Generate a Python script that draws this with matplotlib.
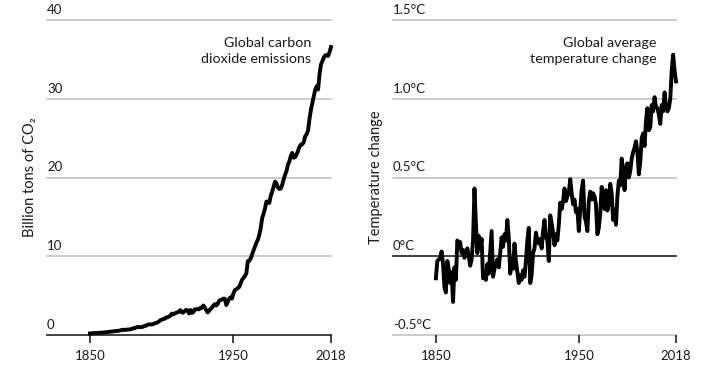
import matplotlib
matplotlib.use("Agg")
import matplotlib.pyplot as plt
from matplotlib.transforms import blended_transform_factory

plt.rcParams['font.family'] = ['Lato', 'DejaVu Sans']

years = list(range(1850, 2019))

# billion tons of CO2 per year
co2 = [
    0.20, 0.21, 0.22, 0.24, 0.26, 0.26, 0.28, 0.29, 0.29, 0.31,
    0.34, 0.35, 0.36, 0.38, 0.41, 0.44, 0.45, 0.48, 0.48, 0.52,
    0.54, 0.58, 0.63, 0.67, 0.64, 0.67, 0.69, 0.70, 0.71, 0.77,
    0.85, 0.87, 0.94, 1.01, 1.02, 1.00, 1.01, 1.05, 1.17, 1.16,
    1.29, 1.35, 1.36, 1.33, 1.39, 1.48, 1.52, 1.60, 1.71, 1.87,
    1.95, 2.02, 2.06, 2.23, 2.24, 2.34, 2.45, 2.72, 2.62, 2.73,
    2.82, 2.87, 2.98, 3.16, 2.87, 2.84, 3.05, 3.19, 3.13, 2.74,
    3.17, 2.81, 2.90, 3.27, 3.26, 3.28, 3.26, 3.47, 3.46, 3.75,
    3.50, 3.17, 2.87, 3.06, 3.32, 3.46, 3.74, 3.92, 3.75, 3.95,
    4.35, 4.45, 4.50, 4.62, 4.60, 3.80, 4.20, 4.60, 4.80, 4.62,
    5.30, 5.70, 5.80, 5.95, 6.10, 6.56, 7.00, 7.26, 7.50, 7.85,
    9.38, 9.40, 9.74, 10.22, 10.75, 11.22, 11.73, 12.09, 12.73, 13.57,
    14.85, 15.40, 16.09, 16.96, 16.82, 16.77, 17.69, 18.19, 18.82, 19.48,
    19.24, 18.72, 18.54, 18.62, 19.09, 19.77, 20.36, 20.83, 21.65, 22.06,
    22.75, 23.12, 22.51, 22.59, 22.92, 23.38, 23.90, 24.17, 24.22, 24.49,
    25.23, 25.50, 25.97, 27.43, 28.59, 29.47, 30.38, 31.18, 31.57, 31.17,
    33.11, 34.34, 34.80, 35.23, 35.52, 35.51, 35.45, 35.93, 36.57,
]

# temperature change in degrees C
temp = [
    -0.14, -0.03, -0.02, -0.01, 0.03, -0.05, -0.20, -0.23, -0.03, -0.08,
    -0.17, -0.10, -0.29, -0.07, -0.15, 0.10, 0.08, 0.09, 0.02, 0.04,
    -0.01, 0.02, 0.05, 0.00, -0.06, -0.02, 0.10, 0.43, 0.21, 0.02,
    0.13, 0.05, 0.11, -0.14, -0.10, -0.15, -0.05, -0.11, 0.03, 0.16,
    -0.13, -0.08, -0.05, -0.02, -0.07, 0.02, 0.12, 0.06, 0.14, 0.10,
    0.23, 0.12, -0.11, -0.02, -0.08, 0.08, -0.03, -0.10, -0.17, -0.12,
    -0.15, -0.09, -0.13, -0.03, 0.10, 0.18, -0.17, -0.12, 0.02, 0.05,
    0.15, 0.10, 0.08, 0.11, 0.05, 0.16, 0.23, 0.12, 0.10, -0.03,
    0.26, 0.21, 0.15, 0.07, 0.14, 0.10, 0.20, 0.34, 0.30, 0.35,
    0.43, 0.35, 0.38, 0.40, 0.49, 0.40, 0.33, 0.36, 0.28, 0.30,
    0.16, 0.30, 0.42, 0.48, 0.25, 0.22, 0.16, 0.35, 0.41, 0.36,
    0.40, 0.38, 0.33, 0.14, 0.18, 0.27, 0.44, 0.35, 0.30, 0.42,
    0.29, 0.33, 0.46, 0.40, 0.23, 0.30, 0.20, 0.38, 0.48, 0.45,
    0.62, 0.55, 0.42, 0.56, 0.59, 0.50, 0.54, 0.62, 0.66, 0.69,
    0.73, 0.66, 0.52, 0.60, 0.75, 0.78, 0.70, 0.86, 0.94, 0.80,
    0.82, 0.96, 0.92, 1.01, 0.95, 0.94, 0.90, 0.84, 0.96, 0.92,
    1.04, 0.95, 0.92, 0.94, 1.00, 1.18, 1.28, 1.18, 1.11,
]

xticks = [1850, 1950, 2018]
co2_grid = [0, 10, 20, 30, 40]
co2_labels = ["0", "10", "20", "30", "40"]
temp_grid = [-0.5, 0.0, 0.5, 1.0, 1.5]
temp_labels = ["-0.5°C", "0°C", "0.5°C", "1.0°C", "1.5°C"]

W, H = 716, 378
fig = plt.figure(figsize=(W / 100, H / 100), dpi=100)
ax1 = fig.add_axes([47 / W, 43 / H, 284 / W, 315 / H])
ax2 = fig.add_axes([393 / W, 43 / H, 283 / W, 315 / H])

GRID = "#bdbdbd"
TXT = "#1a1a1a"


def setup(ax, grid, labels, dark, ylab, title):
    tr = blended_transform_factory(ax.transAxes, ax.transData)
    for g, lab in zip(grid, labels):
        col = "#333333" if g == dark else GRID
        ax.axhline(g, color=col, lw=1.3 if g == dark else 1.1, zorder=1,
                   clip_on=False)
        ax.annotate(lab, (0, g), xycoords=tr, xytext=(0, 3),
                    textcoords="offset points", ha="left", va="bottom",
                    fontsize=9.5, color=TXT)
    ax.set_ylim(grid[0], grid[-1])
    ax.set_xlim(1820, 2018)
    for s in ax.spines.values():
        s.set_visible(False)
    ax.set_yticks([])
    ax.set_xticks(xticks)
    ax.set_xticklabels([str(t) for t in xticks], fontsize=9.5, color=TXT)
    ax.tick_params(axis="x", direction="out", length=6, width=1.1,
                   color="#111111", pad=5)
    ax.set_ylabel(ylab, fontsize=10.5, color=TXT, labelpad=7)
    ax.text(0.93, 0.945, title, transform=ax.transAxes, ha="right",
            va="top", fontsize=10.3, color=TXT, linespacing=1.35)
    ax.patch.set_visible(False)


setup(ax1, co2_grid, co2_labels, 0, "Billion tons of CO₂",
      "Global carbon\ndioxide emissions")
setup(ax2, temp_grid, temp_labels, 0.0, "Temperature change",
      "Global average\ntemperature change")

ax1.plot(years, co2, color="black", lw=2.8, zorder=3, clip_on=False,
         solid_joinstyle="round")
ax2.plot(years, temp, color="black", lw=2.8, zorder=3, clip_on=False,
         solid_joinstyle="round")

fig.savefig("out.png", dpi=100)
